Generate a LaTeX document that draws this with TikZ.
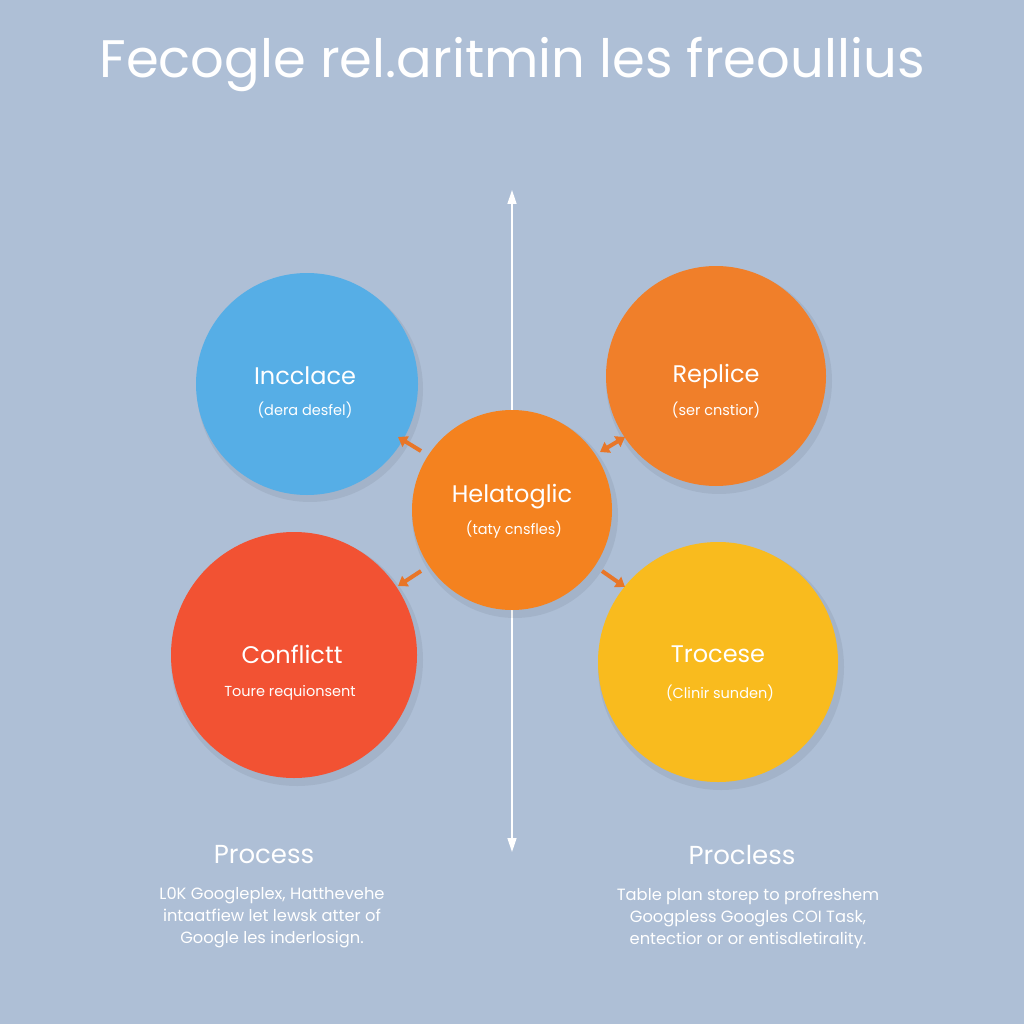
\documentclass[tikz,border=0pt]{standalone}
\usepackage{fontspec}
\setmainfont{Poppins}
\usetikzlibrary{arrows.meta}
\definecolor{bg}{RGB}{174,191,214}
\definecolor{cblue}{RGB}{86,174,230}
\definecolor{corange}{RGB}{240,127,42}
\definecolor{ccenter}{RGB}{244,130,31}
\definecolor{cred}{RGB}{242,82,51}
\definecolor{cyellow}{RGB}{249,187,30}
\definecolor{arr}{RGB}{232,118,40}
\tikzset{
  bubble/.style={circle, inner sep=0pt},
  ttl/.style={text=white, font=\fontsize{24}{28}\selectfont},
  sub/.style={text=white, font=\fontsize{14.5}{17}\selectfont},
  head/.style={text=white, font=\fontsize{26}{30}\selectfont},
  body/.style={text=white, align=center, font=\fontsize{16.3}{22}\selectfont},
  link/.style={arr, line width=4pt, -{Triangle[length=9pt,width=12pt]}},
  dlink/.style={arr, line width=4pt, {Triangle[length=9pt,width=12pt]}-{Triangle[length=9pt,width=12pt]}},
}
\begin{document}
\begin{tikzpicture}[x=1pt,y=-1pt]
\fill[bg] (0,0) rectangle (1024,1024);
\useasboundingbox (0,0) rectangle (1024,1024);
\node[text=white, font=\fontsize{52.8}{58}\selectfont] (title) at (512,64) {Fecogle rel.aritmin les freoullius};
% axis
\coordinate (top) at (512,190);
\coordinate (bot) at (512,852);
\draw[white, line width=1.5pt, {Triangle[length=14pt,width=9pt]}-{Triangle[length=14pt,width=9pt]}] (top) -- (bot);
% shadows
\foreach \x/\y/\r in {307/384/110, 716/376/110, 294/655/123, 718/662/120, 512/510/100}
  \fill[black, opacity=0.06] (\x+3,\y+5) circle (\r+3);
% circles
\node[bubble, fill=cblue, minimum size=222pt] (inc) at (307,384) {};
\node[bubble, fill=corange, minimum size=220pt] (rep) at (716,376) {};
\node[bubble, fill=cred, minimum size=246pt] (con) at (294,655) {};
\node[bubble, fill=cyellow, minimum size=240pt] (tro) at (718,662) {};
\node[bubble, fill=ccenter, minimum size=200pt] (hel) at (512,510) {};
% texts
\node[ttl] (incT) at (305,376) {Incclace};
\node[sub] (incS) at (305,410) {(dera desfel)};
\node[ttl] (repT) at (716,376) {Replice};
\node[sub] (repS) at (716,410) {(ser cnstior)};
\node[ttl] (helT) at (512,497) {Helatoglic};
\node[sub] (helS) at (514,530) {(taty cnsfles)};
\node[ttl] (conT) at (292,654) {Conflictt};
\node[sub] (conS) at (290,693) {Toure requionsent};
\node[ttl] (troT) at (718,654) {Trocese};
\node[sub] (troS) at (720,693) {(Clinir sunden)};
% arrows
\coordinate (a1s) at (421,451); \coordinate (a1e) at (398,437);
\coordinate (a2s) at (600,452); \coordinate (a2e) at (625,437);
\coordinate (a3s) at (421,571); \coordinate (a3e) at (398,586);
\coordinate (a4s) at (602,571); \coordinate (a4e) at (625,587);
\draw[link] (a1s) -- (a1e);
\draw[dlink] (a2s) -- (a2e);
\draw[link] (a3s) -- (a3e);
\draw[link] (a4s) -- (a4e);
% bottom
\node[head] (p1) at (264,855) {Process};
\node[body] (b1) at (272,918) {L0K Googleplex, Hatthevehe\\intaatfiew let lewsk atter of\\Google les inderlosign.};
\node[head] (p2) at (742,855) {Procless};
\node[body] (b2) at (748,918) {Table plan storep to profreshem\\Googpless Googles COI Task,\\entectior or or entisdletirality.};
\end{tikzpicture}
\end{document}
